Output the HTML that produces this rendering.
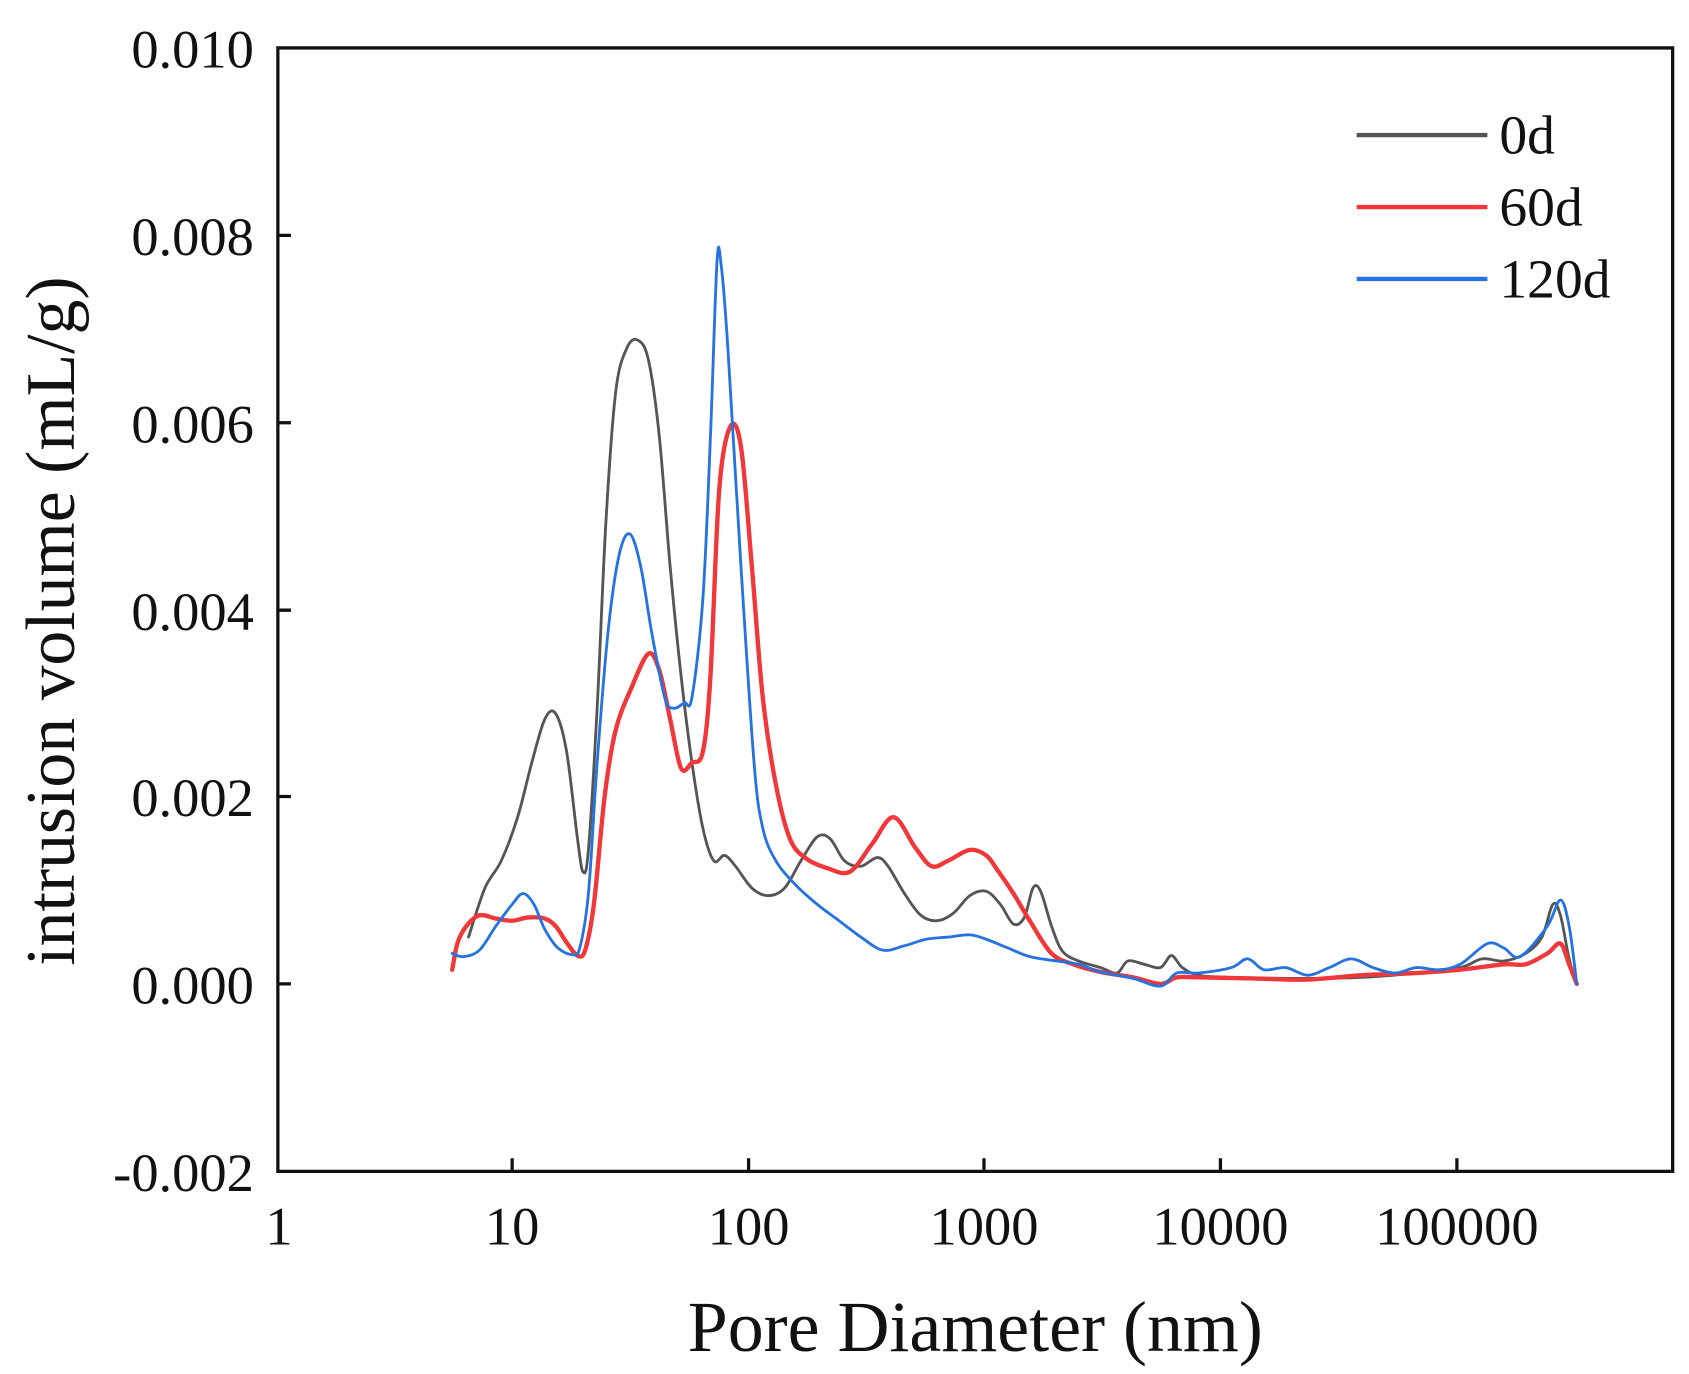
<!DOCTYPE html>
<html><head><meta charset="utf-8"><style>
html,body{margin:0;padding:0;background:#fff;}
svg{display:block;}
text{font-family:"Liberation Serif",serif;fill:#111;}
</style></head><body>
<svg id="s" width="1689" height="1374" viewBox="0 0 1550 1261" preserveAspectRatio="none">
<rect width="1550" height="1261" fill="#fff"/>
<g id="curves" fill="none" stroke-linejoin="round" stroke-linecap="round"></g>
<g stroke="#111" stroke-width="3" fill="none">
<path d="M255 44 H1535 V1075 H255 Z"/>
<path d="M255 216 h12 M255 388 h12 M255 560 h12 M255 731 h12 M255 903 h12"/>
<path d="M470 1075 v-12 M687 1075 v-12 M903 1075 v-12 M1120 1075 v-12 M1337 1075 v-12"/>
</g>
<g font-size="50" text-anchor="end">
<text x="233" y="62">0.010</text>
<text x="233" y="234">0.008</text>
<text x="233" y="406">0.006</text>
<text x="233" y="578">0.004</text>
<text x="233" y="749">0.002</text>
<text x="233" y="921">0.000</text>
<text x="233" y="1093">-0.002</text>
</g>
<g font-size="50" text-anchor="middle">
<text x="256" y="1142">1</text>
<text x="470" y="1142">10</text>
<text x="687" y="1142">100</text>
<text x="903" y="1142">1000</text>
<text x="1120" y="1142">10000</text>
<text x="1337" y="1142">100000</text>
</g>
<text x="895" y="1240" font-size="66" text-anchor="middle">Pore Diameter (nm)</text>
<text transform="translate(68,570) rotate(-90)" font-size="64" text-anchor="middle">intrusion volume (mL/g)</text>
<g stroke-width="4">
<line x1="1245" y1="124" x2="1365" y2="124" stroke="#555"/>
<line x1="1245" y1="190" x2="1365" y2="190" stroke="#f0383a"/>
<line x1="1245" y1="256" x2="1365" y2="256" stroke="#2673e0"/>
</g>
<g font-size="51">
<text x="1376" y="141">0d</text>
<text x="1376" y="207">60d</text>
<text x="1376" y="273">120d</text>
</g>
</svg>
<script>
function path(p){
 let d="M"+p[0][0]+" "+p[0][1];
 for(let i=0;i<p.length-1;i++){
  const p0=p[Math.max(i-1,0)],p1=p[i],p2=p[i+1],p3=p[Math.min(i+2,p.length-1)];
  const c1=[p1[0]+(p2[0]-p0[0])/6,p1[1]+(p2[1]-p0[1])/6];
  const c2=[p2[0]-(p3[0]-p1[0])/6,p2[1]-(p3[1]-p1[1])/6];
  d+=" C"+c1.join(" ")+" "+c2.join(" ")+" "+p2.join(" ");
 }
 return d;
}
const black=[[430,860],[445,815],[460,790],[475,750],[488,700],[500,660],[510,655],[520,690],[530,770],[535,800],[540,780],[548,650],[556,480],[565,360],[575,320],[585,312],[595,330],[605,400],[615,520],[625,620],[635,700],[645,760],[655,790],[665,785],[675,795],[690,815],[705,822],[720,815],[735,790],[750,768],[762,770],[775,790],[790,795],[805,787],[815,795],[830,820],[845,840],[860,845],[875,838],[890,822],[905,818],[918,830],[930,848],[940,842],[948,815],[955,818],[965,850],[975,873],[990,882],[1010,888],[1025,893],[1035,882],[1050,885],[1065,888],[1075,877],[1085,888],[1100,895],[1130,897],[1200,898],[1250,897],[1300,893],[1340,888],[1360,880],[1380,882],[1400,875],[1415,860],[1425,830],[1432,840],[1440,880],[1447,903]];
const red=[[415,890],[420,865],[428,850],[440,840],[455,843],[470,845],[485,842],[500,843],[510,850],[520,865],[530,877],[537,872],[545,830],[555,730],[565,670],[580,630],[595,600],[605,615],[615,660],[625,705],[635,700],[645,690],[652,620],[660,450],[670,392],[680,410],[690,520],[700,640],[712,720],[725,770],[740,788],[760,797],[780,800],[800,775],[820,750],[840,778],[855,795],[870,790],[890,780],[905,785],[915,798],[930,820],[945,845],[965,875],[985,885],[1010,892],[1040,897],[1065,903],[1080,897],[1100,897],[1150,898],[1200,899],[1250,895],[1300,893],[1340,890],[1380,885],[1400,885],[1420,875],[1432,866],[1440,885],[1447,903]];
const blue=[[415,875],[425,878],[440,872],[455,850],[470,830],[480,820],[490,830],[500,853],[512,870],[525,876],[532,870],[540,820],[548,700],[558,580],[568,510],[578,490],[588,520],[598,580],[610,640],[618,650],[628,645],[635,640],[645,550],[652,400],[658,240],[662,245],[668,320],[680,520],[692,700],[700,760],[712,790],[730,812],[750,830],[770,845],[790,860],[810,872],[830,868],[850,862],[870,860],[890,858],[905,862],[925,870],[945,878],[970,882],[990,885],[1010,892],[1040,898],[1065,905],[1080,893],[1100,893],[1130,888],[1145,880],[1160,890],[1180,888],[1200,895],[1220,888],[1240,880],[1260,888],[1280,893],[1300,888],[1320,890],[1340,885],[1365,866],[1380,870],[1395,878],[1420,850],[1432,826],[1440,850],[1447,903]];
const g=document.getElementById("curves");
[[black,"#555",2.6],[red,"#f0383a",4],[blue,"#2673e0",2.6]].forEach(([p,c,w])=>{
 const e=document.createElementNS("http://www.w3.org/2000/svg","path");
 e.setAttribute("d",path(p));e.setAttribute("stroke",c);e.setAttribute("stroke-width",w);g.appendChild(e);
});
</script>
</body></html>
